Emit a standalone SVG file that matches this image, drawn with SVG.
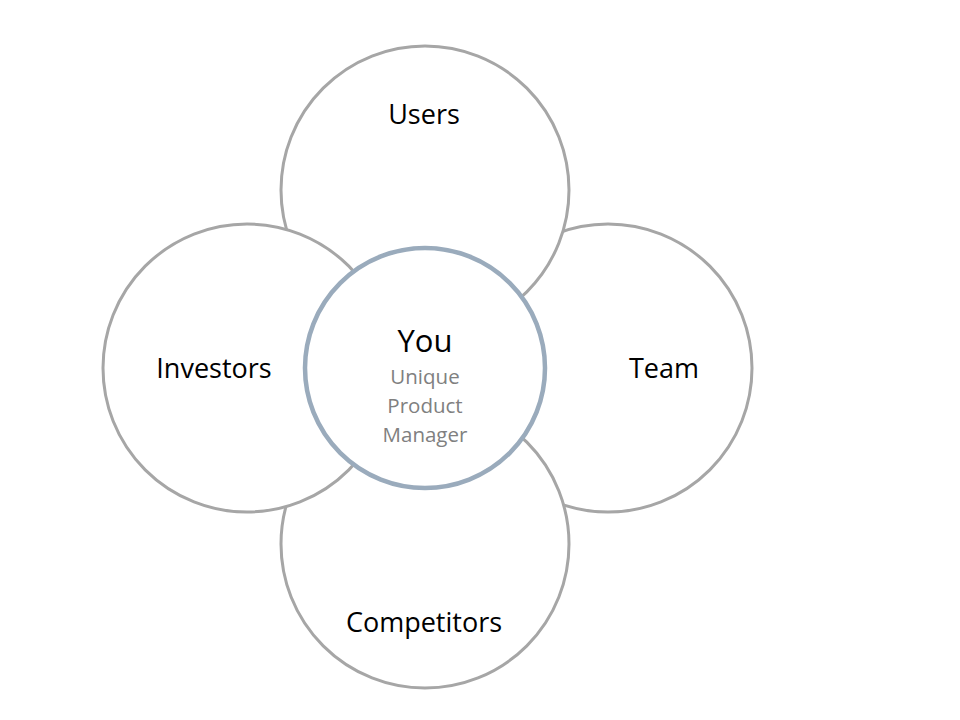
<svg xmlns="http://www.w3.org/2000/svg" width="960" height="720" viewBox="0 0 960 720">
<style>
.outer{fill:#fff;stroke:#a6a6a6;stroke-width:3}
.center{fill:#fff;stroke:#9aabbc;stroke-width:4.5}
.lbl{font-family:"Open Sans","Noto Sans",sans-serif;font-size:27px;fill:#000;text-anchor:middle}
.sub{font-family:"Open Sans","Noto Sans",sans-serif;font-size:20.5px;fill:#808080;text-anchor:middle}
</style>
<rect width="960" height="720" fill="#fff"/>
<g id="team"><circle class="outer" cx="608" cy="368" r="144"/><text class="lbl" x="664" y="378">Team</text></g>
<g id="users"><circle class="outer" cx="425" cy="190" r="144"/><text class="lbl" x="424" y="124">Users</text></g>
<g id="competitors"><circle class="outer" cx="425" cy="544" r="144"/><text class="lbl" x="424" y="632">Competitors</text></g>
<g id="investors"><circle class="outer" cx="247" cy="368" r="144"/><text class="lbl" x="214" y="378">Investors</text></g>
<g id="you"><circle class="center" cx="425" cy="368" r="120"/>
<text class="lbl" x="425" y="352" style="font-size:31px">You</text>
<text class="sub" x="425" y="384">Unique</text>
<text class="sub" x="425" y="413">Product</text>
<text class="sub" x="425" y="442">Manager</text></g>
<g id="connectors"/>
</svg>
